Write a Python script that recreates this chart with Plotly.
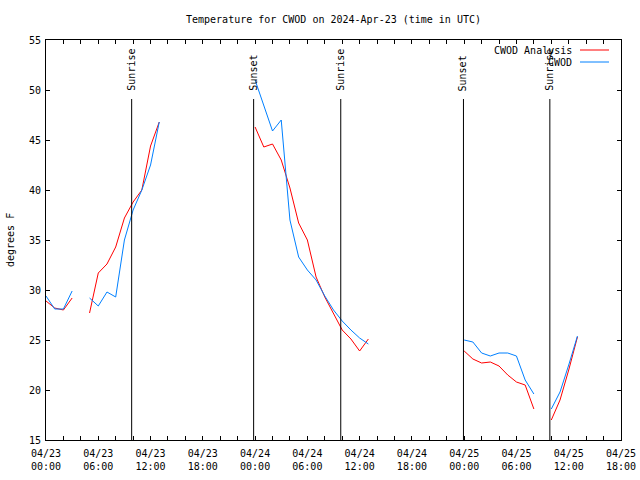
import pandas as pd
import plotly.graph_objects as go

# ---- data ----
start_time = "2024-04-23 00:00"
n_hours = 62
analysis_vals = {
    0: 28.9, 1: 28.2, 2: 28.0, 3: 29.2,
    5: 27.7, 6: 31.7, 7: 32.6, 8: 34.3, 9: 37.2, 10: 38.8, 11: 40.0, 12: 44.4, 13: 46.8,
    24: 46.3, 25: 44.3, 26: 44.6, 27: 43.0, 28: 40.2, 29: 36.7, 30: 35.0, 31: 31.3,
    32: 29.3, 33: 27.6, 34: 26.0, 35: 25.1, 36: 23.9, 37: 25.1,
    48: 23.9, 49: 23.1, 50: 22.7, 51: 22.8, 52: 22.4, 53: 21.5, 54: 20.8, 55: 20.5, 56: 18.1,
    58: 17.0, 59: 19.0, 60: 22.0, 61: 25.3,
}
obs_vals = {
    0: 29.4, 1: 28.1, 2: 28.1, 3: 29.9,
    5: 29.2, 6: 28.4, 7: 29.8, 8: 29.3, 9: 35.0, 10: 38.0, 11: 40.0, 12: 42.5, 13: 46.8,
    24: 51.0, 25: 48.4, 26: 45.9, 27: 47.0, 28: 37.0, 29: 33.3, 30: 32.0, 31: 31.0,
    32: 29.4, 33: 28.0, 34: 26.9, 35: 26.0, 36: 25.2, 37: 24.6,
    48: 25.0, 49: 24.8, 50: 23.7, 51: 23.4, 52: 23.7, 53: 23.7, 54: 23.4, 55: 21.0, 56: 19.6,
    58: 18.1, 59: 19.8, 60: 22.5, 61: 25.4,
}
event_times = ["2024-04-23 09:50", "2024-04-23 23:50", "2024-04-24 09:50",
               "2024-04-24 23:55", "2024-04-25 09:50"]
event_labels = ["Sunrise", "Sunset", "Sunrise", "Sunset", "Sunrise"]
tick_times = pd.date_range("2024-04-23 00:00", "2024-04-25 18:00", freq="6h")
tick_labels = [t.strftime("%m/%d") + "<br>" + t.strftime("%H:%M") for t in tick_times]
series_names = ["CWOD Analysis", "CWOD"]
series_colors = ["#ff0000", "#0080ff"]

times = pd.date_range(start_time, periods=n_hours, freq="h")
analysis = [analysis_vals.get(i) for i in range(n_hours)]
obs = [obs_vals.get(i) for i in range(n_hours)]

FONT = "DejaVu Sans Mono"
fig = go.Figure()
for name, vals, col in zip(series_names, [analysis, obs], series_colors):
    fig.add_trace(go.Scatter(x=times, y=vals, mode="lines", name=name,
                             line=dict(color=col, width=1), connectgaps=False,
                             showlegend=False))

for t, lab in zip(event_times, event_labels):
    fig.add_shape(type="line", xref="x", yref="paper", x0=t, x1=t, y0=0, y1=0.8525,
                  line=dict(color="black", width=1))
    fig.add_annotation(x=t, xref="x", y=0.8675, yref="paper", text=lab, textangle=-90,
                       showarrow=False, xanchor="center", yanchor="bottom",
                       font=dict(family=FONT, size=10, color="black"))

# custom legend (gnuplot style: text right-aligned, sample to the right)
for i, (name, col) in enumerate(zip(series_names, series_colors)):
    ypix = 50 + 12 * i
    yp = (440 - ypix) / 400
    fig.add_annotation(x=(574 - 46) / 575, xref="paper", y=yp, yref="paper", text=name,
                       showarrow=False, xanchor="right", yanchor="middle",
                       font=dict(family=FONT, size=10, color="black"))
    fig.add_shape(type="line", xref="paper", yref="paper",
                  x0=(580 - 46) / 575, x1=(609 - 46) / 575, y0=yp, y1=yp,
                  line=dict(color=col, width=1))

fig.add_annotation(x=(10 - 46) / 575, xref="paper", y=0.5, yref="paper", text="degrees F",
                   textangle=-90, showarrow=False, xanchor="center", yanchor="middle",
                   font=dict(family=FONT, size=10, color="black"))

fig.update_layout(
    width=640, height=480,
    margin=dict(l=46, r=19, t=40, b=40, autoexpand=False),
    paper_bgcolor="white", plot_bgcolor="white",
    font=dict(family=FONT, size=10, color="black"),
    title=dict(text="Temperature for CWOD on 2024-Apr-23 (time in UTC)",
               x=(333.5) / 640, xanchor="center", y=1 - 19 / 480, yanchor="middle",
               font=dict(family=FONT, size=10, color="black")),
    showlegend=False,
)
fig.update_xaxes(
    type="date", range=["2024-04-23 00:00", "2024-04-25 18:00"],
    tickvals=list(tick_times), ticktext=tick_labels,
    ticks="inside", ticklen=4, tickcolor="black", ticklabelstandoff=4,
    minor=dict(dtick=2 * 3600 * 1000, ticks="inside", ticklen=4, tickcolor="black", showgrid=False),
    showline=True, linecolor="black", linewidth=1, mirror="ticks",
    showgrid=False, zeroline=False,
)
fig.update_yaxes(
    range=[15, 55], dtick=5, tick0=15,
    ticks="inside", ticklen=4, tickcolor="black", ticklabelstandoff=2,
    showline=True, linecolor="black", linewidth=1, mirror="ticks",
    showgrid=False, zeroline=False,
)
fig.write_html("out.html", config={"displayModeBar": False},
               post_script="document.body.style.margin='0';")
